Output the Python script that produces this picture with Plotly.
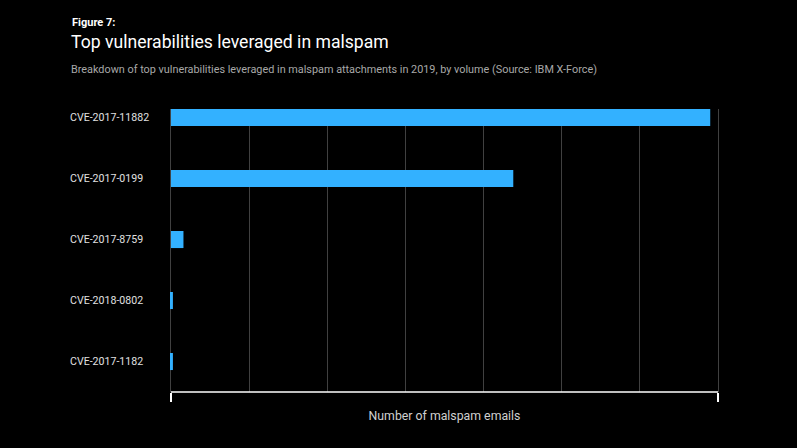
import plotly.graph_objects as go

categories = ["CVE-2017-11882", "CVE-2017-0199", "CVE-2017-8759", "CVE-2018-0802", "CVE-2017-1182"]
values = [6.90, 4.38, 0.16, 0.025, 0.025]
x_max = 7

FONT = "Roboto"
BG = "#000000"
BAR = "#33b1ff"
GRID = "#404040"

L, R, T, B = 169, 77, 109, 56
W, H = 797, 448
ph = H - T - B
pw = W - L - R

def px(xpix):
    return (xpix - L) / pw

def py(ypix):
    return (H - B - ypix) / ph

fig = go.Figure()
fig.add_trace(go.Bar(
    y=categories, x=values, orientation="h",
    marker=dict(color=BAR, line=dict(width=0)),
    width=0.28, hoverinfo="skip",
))
# secondary axis used only for the bottom bracket ticks
fig.add_trace(go.Scatter(x=[0, x_max], y=[categories[0], categories[0]], xaxis="x2",
                         mode="markers", marker=dict(opacity=0), hoverinfo="skip", showlegend=False))

eps = 0.025
fig.update_layout(
    width=W, height=H,
    margin=dict(l=L, r=R, t=T, b=B),
    paper_bgcolor=BG, plot_bgcolor=BG,
    showlegend=False,
    font=dict(family=FONT, color="#e0e0e0"),
    xaxis=dict(range=[-eps, x_max + eps], dtick=1, tick0=0, showgrid=True, gridcolor=GRID,
               gridwidth=1, zeroline=True, zerolinecolor=GRID, zerolinewidth=1,
               showticklabels=False, ticks="", showline=False, fixedrange=True),
    xaxis2=dict(range=[-eps, x_max + eps], overlaying="x", side="bottom", tickvals=[0, x_max],
                ticks="outside", ticklen=9, tickwidth=1.5, tickcolor="#ffffff",
                showline=False, showgrid=False,
                zeroline=False, showticklabels=False, anchor="y",
                title=dict(text="Number of malspam emails", font=dict(size=12.3, color="#d0d0d0"),
                           standoff=10)),
    yaxis=dict(range=[4.5, -0.14], showticklabels=False, showgrid=False, zeroline=False,
               ticks="", categoryorder="array", categoryarray=categories, fixedrange=True),
    shapes=[dict(type="line", xref="x2", yref="paper", x0=0, x1=x_max, y0=0, y1=0,
                 line=dict(color="#ffffff", width=1.5))],
)

ann = []
for c in categories:
    ann.append(dict(x=px(68), y=c, xref="paper", yref="y", text=c, showarrow=False,
                    xanchor="left", yanchor="middle", font=dict(size=10.6, color="#e0e0e0")))
ann.append(dict(x=px(70), y=py(22), xref="paper", yref="paper", text="<b>Figure 7:</b>",
                showarrow=False, xanchor="left", yanchor="middle", font=dict(size=11, color="#ffffff")))
ann.append(dict(x=px(69), y=py(42), xref="paper", yref="paper", text="Top vulnerabilities leveraged in malspam",
                showarrow=False, xanchor="left", yanchor="middle", font=dict(size=17.6, color="#ffffff")))
ann.append(dict(x=px(69), y=py(70), xref="paper", yref="paper",
                text="Breakdown of top vulnerabilities leveraged in malspam attachments in 2019, by volume (Source: IBM X-Force)",
                showarrow=False, xanchor="left", yanchor="middle", font=dict(size=10.85, color="#a8a8a8")))
fig.update_layout(annotations=ann)

fig.write_html("out.html")
